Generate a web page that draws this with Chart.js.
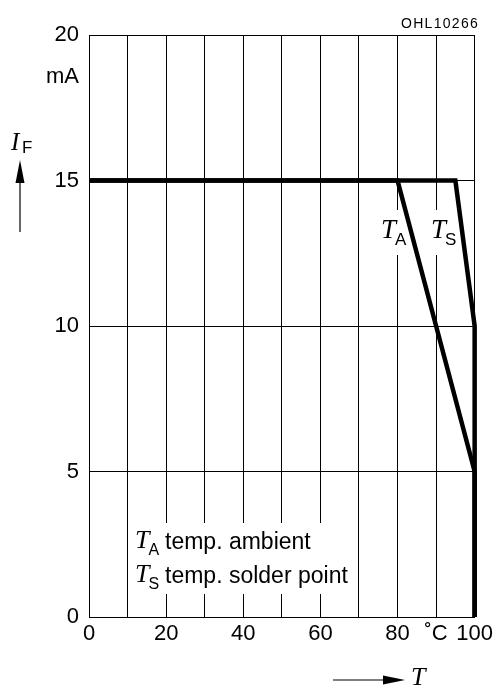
<!DOCTYPE html>
<html>
<head>
<meta charset="utf-8">
<style>
html, body { margin: 0; padding: 0; background: #fff; }
#wrap { width: 497px; height: 686px; }
</style>
<script src="https://cdn.jsdelivr.net/npm/chart.js@4"></script>
</head>
<body>
<div id="wrap"><canvas id="chartIF" width="497" height="686"></canvas></div>
<script>
// curva T_A (temp. ambient)
const ambientT = [0, 80, 100, 100];
const ambientIF = [15, 15, 5, 0];
// curva T_S (temp. solder point)
const solderT = [0, 95, 100, 100];
const solderIF = [15, 15, 10, 0];
// etiquetas de los ejes
const xTickLabels = ['0', '', '20', '', '40', '', '60', '', '80', '˚C', '100'];
const yTickLabels = ['0', '5', '10', '15', '20'];

const sans = 'Liberation Sans, Arial, sans-serif';
const serif = 'Liberation Serif, Times New Roman, serif';

const toPoints = (xs, ys) => xs.map((x, i) => ({x: x, y: ys[i]}));

// texto con subindice, p.ej. T_A
const drawSub = (c, x, y, main, sub, size) => {
    c.font = `italic ${size}px ${serif}`;
    c.textAlign = 'left';
    c.fillText(main, x, y);
    const w = c.measureText(main).width;
    c.font = `${Math.round(size * 0.62)}px ${sans}`;
    c.fillText(sub, x + w - 1, y + 7);
};

const annotations = {
    id: 'annotations',
    beforeDatasetsDraw(chart) {
        const c = chart.ctx;
        c.save();
        c.fillStyle = '#fff';
        // huecos en la rejilla detras de los textos
        c.fillRect(130, 523, 226, 71);
        c.fillRect(378, 210, 31, 45);
        c.fillRect(427, 210, 32, 45);
        c.restore();
    },
    afterDraw(chart) {
        const c = chart.ctx;
        c.save();
        c.fillStyle = '#000';
        c.strokeStyle = '#000';
        c.textBaseline = 'alphabetic';

        // codigo arriba a la derecha
        c.font = `14px ${sans}`;
        c.textAlign = 'center';
        c.letterSpacing = '1.3px';
        c.fillText('OHL10266', 440, 28);
        c.letterSpacing = '0px';

        // unidad eje y
        c.font = `22px ${sans}`;
        c.textAlign = 'right';
        c.fillText('mA', 79, 83);

        // I_F con flecha
        c.font = `italic 25px ${serif}`;
        c.textAlign = 'left';
        c.fillText('I', 11, 150);
        c.font = `17px ${sans}`;
        c.fillText('F', 22, 153);
        c.lineWidth = 1.2;
        c.beginPath();
        c.moveTo(20, 232);
        c.lineTo(20, 180);
        c.stroke();
        c.beginPath();
        c.moveTo(20, 160);
        c.lineTo(15.5, 183);
        c.lineTo(24.5, 183);
        c.closePath();
        c.fill();

        // T con flecha abajo
        c.beginPath();
        c.moveTo(333, 680);
        c.lineTo(386, 680);
        c.stroke();
        c.beginPath();
        c.moveTo(405, 680);
        c.lineTo(383, 675.5);
        c.lineTo(383, 684.5);
        c.closePath();
        c.fill();
        c.font = `italic 26px ${serif}`;
        c.fillText('T', 411, 685);

        // etiquetas de las curvas
        drawSub(c, 381, 238, 'T', 'A', 27);
        drawSub(c, 431, 238, 'T', 'S', 27);

        // leyenda
        drawSub(c, 135, 548, 'T', 'A', 26);
        drawSub(c, 135, 582, 'T', 'S', 26);
        c.font = `23px ${sans}`;
        c.textAlign = 'left';
        c.fillText('temp. ambient', 165, 549);
        c.fillText('temp. solder point', 165, 583);
        c.restore();
    }
};

const lineStyle = {
    showLine: true,
    borderColor: '#000',
    borderWidth: 4.5,
    borderJoinStyle: 'miter',
    pointRadius: 0,
    clip: false
};

const ctx = document.getElementById('chartIF');

const chart = new Chart(ctx, {
    type: 'scatter',
    data: {
        datasets: [
            {...lineStyle, label: 'T_A', data: toPoints(ambientT, ambientIF)},
            {...lineStyle, label: 'T_S', data: toPoints(solderT, solderIF)}
        ]
    },
    options: {
        responsive: false,
        animation: false,
        layout: {padding: {left: 0, right: 21, top: 35, bottom: 0}},
        plugins: {
            legend: {display: false},
            tooltip: {enabled: false}
        },
        scales: {
            x: {
                type: 'linear',
                min: 0,
                max: 100,
                ticks: {
                    stepSize: 10,
                    autoSkip: false,
                    maxRotation: 0,
                    padding: 4,
                    color: '#000',
                    font: {family: sans, size: 22},
                    callback: (v) => xTickLabels[Math.round(v / 10)]
                },
                grid: {color: '#000', lineWidth: 1, drawTicks: false, tickLength: 0},
                border: {color: '#000', width: 1},
                afterFit: (s) => { s.height = 69; }
            },
            y: {
                type: 'linear',
                min: 0,
                max: 20,
                ticks: {
                    stepSize: 5,
                    padding: 10,
                    color: '#000',
                    font: {family: sans, size: 22},
                    callback: (v) => yTickLabels[Math.round(v / 5)]
                },
                grid: {color: '#000', lineWidth: 1, drawTicks: false, tickLength: 0},
                border: {color: '#000', width: 1},
                afterFit: (s) => { s.width = 89; }
            }
        }
    },
    plugins: [annotations]
});
</script>
</body>
</html>
